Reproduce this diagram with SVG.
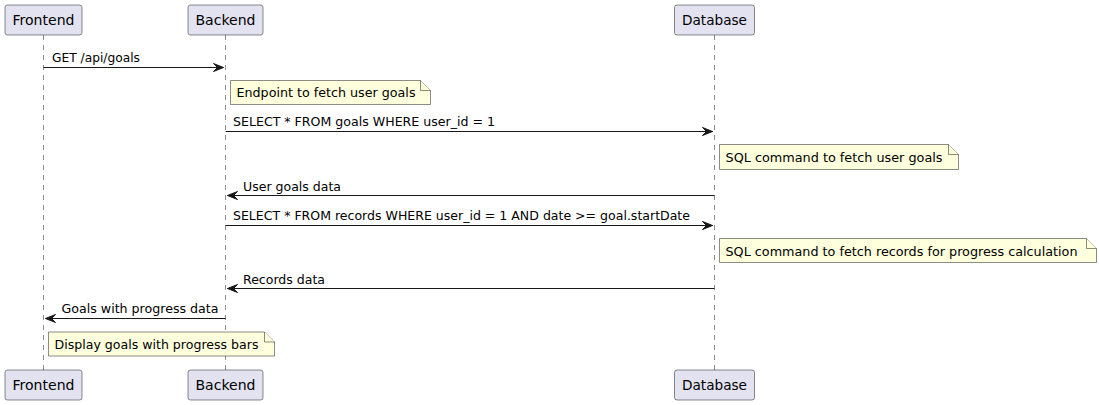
<svg xmlns="http://www.w3.org/2000/svg" width="1099" height="405" viewBox="0 0 1099 405">
<style>
.part{fill:#E2E2F0;stroke:#181818;stroke-width:0.5}
.pt{font-family:"DejaVu Sans",sans-serif;font-size:14px;fill:#000}
.life{stroke:#181818;stroke-width:0.5;stroke-dasharray:5,5;fill:none}
.msg{stroke:#181818;stroke-width:1;fill:none}
.head{fill:#181818;stroke:#181818;stroke-width:1}
.mt{font-family:"DejaVu Sans",sans-serif;font-size:13px;fill:#000}
.note{fill:#FEFFDD;stroke:#181818;stroke-width:0.5}
</style>
<rect width="1099" height="405" fill="#FFFFFF"/>
<g id="lifelines">
<line class="life" x1="43.5" y1="35" x2="43.5" y2="370"/>
<line class="life" x1="225.5" y1="35" x2="225.5" y2="370"/>
<line class="life" x1="714.5" y1="35" x2="714.5" y2="370"/>
</g>
<g id="Frontend">
<rect class="part" x="5" y="5" width="77" height="30" rx="2.5"/>
<text class="pt" x="12.5" y="25" textLength="62" lengthAdjust="spacingAndGlyphs">Frontend</text>
<rect class="part" x="5" y="370" width="77" height="30" rx="2.5"/>
<text class="pt" x="12.5" y="390" textLength="62" lengthAdjust="spacingAndGlyphs">Frontend</text>
</g>
<g id="Backend">
<rect class="part" x="188" y="5" width="75" height="30" rx="2.5"/>
<text class="pt" x="195.5" y="25" textLength="60" lengthAdjust="spacingAndGlyphs">Backend</text>
<rect class="part" x="188" y="370" width="75" height="30" rx="2.5"/>
<text class="pt" x="195.5" y="390" textLength="60" lengthAdjust="spacingAndGlyphs">Backend</text>
</g>
<g id="Database">
<rect class="part" x="674.5" y="5" width="80" height="30" rx="2.5"/>
<text class="pt" x="682" y="25" textLength="65" lengthAdjust="spacingAndGlyphs">Database</text>
<rect class="part" x="674.5" y="370" width="80" height="30" rx="2.5"/>
<text class="pt" x="682" y="390" textLength="65" lengthAdjust="spacingAndGlyphs">Database</text>
</g>
<g id="connectors">
<line class="msg" x1="43.5" y1="67.5" x2="223.5" y2="67.5"/>
<polygon class="head" points="213.5,63.5 223.5,67.5 213.5,71.5 217.5,67.5"/>
<text class="mt" x="52" y="62" textLength="88" lengthAdjust="spacingAndGlyphs">GET /api/goals</text>

<line class="msg" x1="225.5" y1="131.5" x2="712.5" y2="131.5"/>
<polygon class="head" points="702.5,127.5 712.5,131.5 702.5,135.5 706.5,131.5"/>
<text class="mt" x="233" y="126" textLength="262" lengthAdjust="spacingAndGlyphs">SELECT * FROM goals WHERE user_id = 1</text>

<line class="msg" x1="227.5" y1="195.5" x2="714.5" y2="195.5"/>
<polygon class="head" points="237.5,191.5 227.5,195.5 237.5,199.5 233.5,195.5"/>
<text class="mt" x="243" y="190.5" textLength="98" lengthAdjust="spacingAndGlyphs">User goals data</text>

<line class="msg" x1="225.5" y1="225.5" x2="712.5" y2="225.5"/>
<polygon class="head" points="702.5,221.5 712.5,225.5 702.5,229.5 706.5,225.5"/>
<text class="mt" x="233" y="220" textLength="457" lengthAdjust="spacingAndGlyphs">SELECT * FROM records WHERE user_id = 1 AND date &gt;= goal.startDate</text>

<line class="msg" x1="227.5" y1="288.5" x2="714.5" y2="288.5"/>
<polygon class="head" points="237.5,284.5 227.5,288.5 237.5,292.5 233.5,288.5"/>
<text class="mt" x="243" y="283.5" textLength="82" lengthAdjust="spacingAndGlyphs">Records data</text>

<line class="msg" x1="45.5" y1="318.5" x2="225.5" y2="318.5"/>
<polygon class="head" points="55.5,314.5 45.5,318.5 55.5,322.5 51.5,318.5"/>
<text class="mt" x="61.5" y="312.5" textLength="157" lengthAdjust="spacingAndGlyphs">Goals with progress data</text>
</g>
<g id="note1">
<path class="note" d="M230.5,80.5 L420.5,80.5 L430.5,90.5 L430.5,104.5 L230.5,104.5 Z"/>
<path class="note" d="M420.5,80.5 L420.5,90.5 L430.5,90.5" fill="none"/>
<text class="mt" x="236.5" y="97" textLength="179" lengthAdjust="spacingAndGlyphs">Endpoint to fetch user goals</text>
</g>
<g id="note2">
<path class="note" d="M719.5,144.5 L948.5,144.5 L958.5,154.5 L958.5,169.5 L719.5,169.5 Z"/>
<path class="note" d="M948.5,144.5 L948.5,154.5 L958.5,154.5" fill="none"/>
<text class="mt" x="725.5" y="161.5" textLength="217" lengthAdjust="spacingAndGlyphs">SQL command to fetch user goals</text>
</g>
<g id="note3">
<path class="note" d="M719.5,238.5 L1086.5,238.5 L1096.5,248.5 L1096.5,262.5 L719.5,262.5 Z"/>
<path class="note" d="M1086.5,238.5 L1086.5,248.5 L1096.5,248.5" fill="none"/>
<text class="mt" x="725.5" y="255.5" textLength="352" lengthAdjust="spacingAndGlyphs">SQL command to fetch records for progress calculation</text>
</g>
<g id="note4">
<path class="note" d="M48.5,332 L264.5,332 L274.5,342 L274.5,356 L48.5,356 Z"/>
<path class="note" d="M264.5,332 L264.5,342 L274.5,342" fill="none"/>
<text class="mt" x="54.5" y="348.5" textLength="204" lengthAdjust="spacingAndGlyphs">Display goals with progress bars</text>
</g>
</svg>
